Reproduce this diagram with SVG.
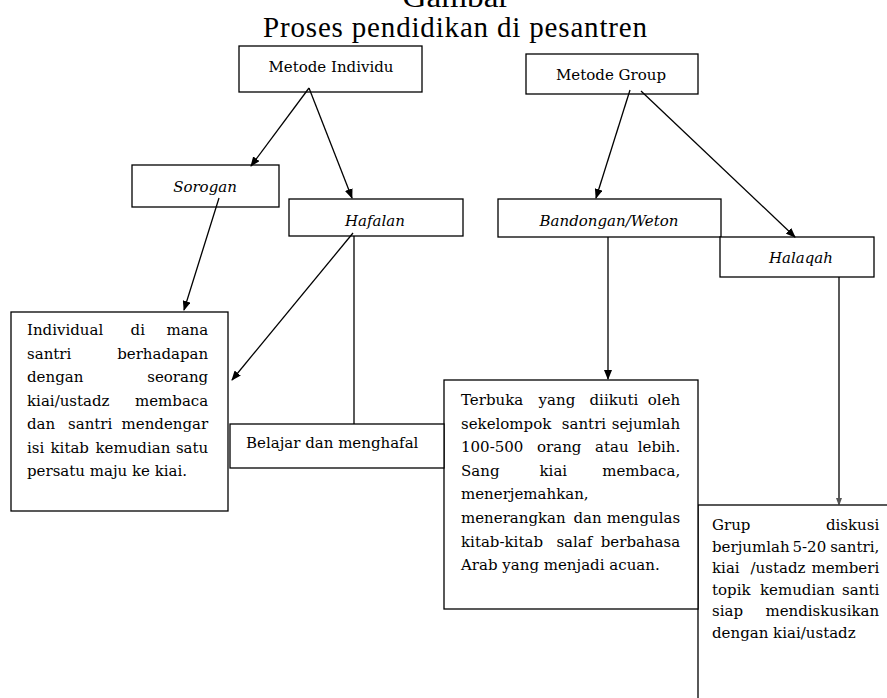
<svg xmlns="http://www.w3.org/2000/svg" width="887" height="698" viewBox="0 0 887 698">
<style>
.bx{fill:#fff;stroke:#000;stroke-width:1.3}
.t{font-family:"DejaVu Serif","Liberation Serif",serif;font-size:15px;fill:#000}
.i{font-style:italic}
.ttl{font-family:"Liberation Serif",serif;font-size:29px;fill:#000}
.e{text-anchor:end}
.c{text-anchor:middle}
.ln{stroke:#000;stroke-width:1.3;fill:none}
</style>
<defs>
<marker id="ah" markerUnits="userSpaceOnUse" markerWidth="10" markerHeight="8" refX="9" refY="4" orient="auto"><path d="M0,0 L10,4 L0,8 z" fill="#000"/></marker>
<marker id="ahs" markerUnits="userSpaceOnUse" markerWidth="8" markerHeight="6" refX="7" refY="3" orient="auto"><path d="M0,0 L8,3 L0,6 z" fill="#555"/></marker>
</defs>
<rect width="887" height="698" fill="#fff"/>
<g id="title">
<text class="ttl c" x="456" y="7" textLength="107" lengthAdjust="spacingAndGlyphs">Gambar</text>
<text class="ttl" x="263" y="37" textLength="384" lengthAdjust="spacing">Proses pendidikan di pesantren</text>
</g>
<g id="n-grup">
<rect class="bx" x="698" y="505" width="200" height="250"/>
<text class="t"><tspan x="712" y="530">Grup</tspan><tspan class="e" x="884" y="530">diskusi</tspan>
<tspan x="712" y="551.6">berjumlah</tspan><tspan x="792.5" y="551.6">5-20</tspan><tspan class="e" x="884" y="551.6">santri,</tspan>
<tspan x="712" y="573.2">kiai</tspan><tspan x="750.5" y="573.2">/ustadz</tspan><tspan class="e" x="884" y="573.2">memberi</tspan>
<tspan x="712" y="594.8">topik</tspan><tspan x="760" y="594.8">kemudian</tspan><tspan class="e" x="884" y="594.8">santi</tspan>
<tspan x="712" y="616.4">siap</tspan><tspan class="e" x="884" y="616.4">mendiskusikan</tspan>
<tspan x="712" y="638">dengan kiai/ustadz</tspan></text>
</g>
<g id="n-terbuka">
<rect class="bx" x="444" y="380" width="254" height="229"/>
<text class="t"><tspan x="461" y="405">Terbuka</tspan><tspan x="538.6" y="405">yang</tspan><tspan x="589.5" y="405">diikuti</tspan><tspan class="e" x="685" y="405">oleh</tspan>
<tspan x="461" y="428.6">sekelompok</tspan><tspan x="561.8" y="428.6">santri</tspan><tspan class="e" x="685" y="428.6">sejumlah</tspan>
<tspan x="461" y="452.2">100-500</tspan><tspan x="537" y="452.2">orang</tspan><tspan x="595.1" y="452.2">atau</tspan><tspan class="e" x="685" y="452.2">lebih.</tspan>
<tspan x="461" y="475.8">Sang</tspan><tspan x="539.5" y="475.8">kiai</tspan><tspan class="e" x="685" y="475.8">membaca,</tspan>
<tspan x="461" y="499.4">menerjemahkan,</tspan>
<tspan x="461" y="523">menerangkan</tspan><tspan x="573.5" y="523">dan</tspan><tspan class="e" x="685" y="523">mengulas</tspan>
<tspan x="461" y="546.6">kitab-kitab</tspan><tspan x="556.4" y="546.6">salaf</tspan><tspan class="e" x="685" y="546.6">berbahasa</tspan>
<tspan x="461" y="570.2">Arab yang menjadi acuan.</tspan></text>
</g>
<g id="n-belajar">
<rect class="bx" x="230" y="424" width="214" height="44"/>
<text class="t" x="246" y="448">Belajar  dan menghafal</text>
</g>
<g id="n-individual">
<rect class="bx" x="11" y="312" width="217" height="199"/>
<text class="t"><tspan x="27" y="335">Individual</tspan><tspan x="130.6" y="335">di</tspan><tspan class="e" x="213" y="335">mana</tspan>
<tspan x="27" y="358.5">santri</tspan><tspan class="e" x="213" y="358.5">berhadapan</tspan>
<tspan x="27" y="382">dengan</tspan><tspan class="e" x="213" y="382">seorang</tspan>
<tspan x="27" y="405.5">kiai/ustadz</tspan><tspan class="e" x="213" y="405.5">membaca</tspan>
<tspan x="27" y="429">dan</tspan><tspan x="68" y="429">santri</tspan><tspan class="e" x="213" y="429">mendengar</tspan>
<tspan x="27" y="452.5">isi</tspan><tspan x="50.5" y="452.5">kitab</tspan><tspan x="95.5" y="452.5">kemudian</tspan><tspan class="e" x="213" y="452.5">satu</tspan>
<tspan x="27" y="476">persatu maju ke kiai.</tspan></text>
</g>
<g id="n-metode-individu">
<rect class="bx" x="239" y="46" width="183" height="46"/>
<text class="t c" x="331" y="72">Metode Individu</text>
</g>
<g id="n-metode-group">
<rect class="bx" x="526" y="54" width="172" height="40"/>
<text class="t c" x="611" y="80">Metode Group</text>
</g>
<g id="n-sorogan">
<rect class="bx" x="132" y="165" width="147" height="42"/>
<text class="t i c" x="205" y="192">Sorogan</text>
</g>
<g id="n-hafalan">
<rect class="bx" x="289" y="199" width="174" height="37"/>
<text class="t i c" x="375" y="226">Hafalan</text>
</g>
<g id="n-bandongan">
<rect class="bx" x="498" y="199" width="223" height="38"/>
<text class="t i c" x="609" y="226">Bandongan/Weton</text>
</g>
<g id="n-halaqah">
<rect class="bx" x="720" y="237" width="154" height="40"/>
<text class="t i c" x="801" y="263">Halaqah</text>
</g>
<g id="connectors">
<line class="ln" x1="309" y1="88" x2="251" y2="166" marker-end="url(#ah)"/>
<line class="ln" x1="309" y1="88" x2="352" y2="198" marker-end="url(#ah)"/>
<line class="ln" x1="630" y1="90" x2="596" y2="198" marker-end="url(#ah)"/>
<line class="ln" x1="641" y1="91" x2="795" y2="237" marker-end="url(#ah)"/>
<line class="ln" x1="219" y1="198" x2="184" y2="310" marker-end="url(#ah)"/>
<line class="ln" x1="353" y1="233" x2="232" y2="380" marker-end="url(#ah)"/>
<line class="ln" x1="354" y1="236" x2="354" y2="424" stroke="#555"/>
<line class="ln" x1="608" y1="237" x2="608" y2="379" marker-end="url(#ah)"/>
<line class="ln" x1="839" y1="277" x2="839" y2="505" marker-end="url(#ahs)"/>
</g>
</svg>
